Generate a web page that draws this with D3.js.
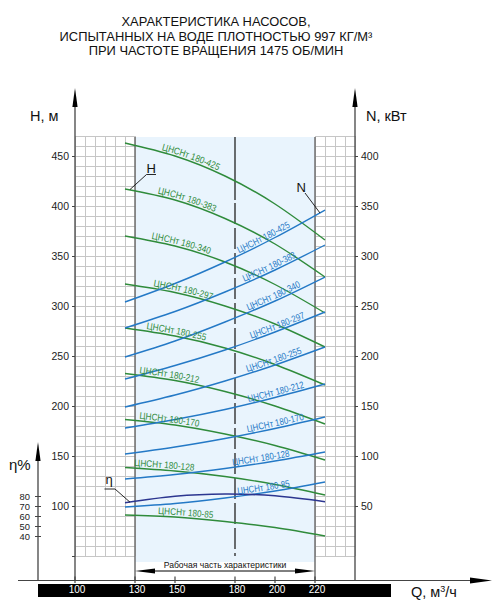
<!DOCTYPE html>
<html><head><meta charset="utf-8">
<script src="https://cdn.jsdelivr.net/npm/d3@7"></script>
<style>
body{margin:0;background:#fff}
svg{display:block;font-family:"Liberation Sans",Arial,sans-serif}
</style>
</head><body>
<svg id="c" width="500" height="611"></svg>
<script>
// ---------- data ----------
const titleLines = ["ХАРАКТЕРИСТИКА НАСОСОВ,", "ИСПЫТАННЫХ НА ВОДЕ ПЛОТНОСТЬЮ 997 КГ/М³", "ПРИ ЧАСТОТЕ ВРАЩЕНИЯ 1475 ОБ/МИН"];
const qPoints = [125, 150, 175, 200, 225];
const models = ["180-425", "180-383", "180-340", "180-297", "180-255", "180-212", "180-170", "180-128", "180-85"];
const head425 = [463, 450, 430, 402, 366];
const head383 = [417, 406, 387.5, 362, 329];
const head340 = [370, 360, 344, 321.5, 293];
const head297 = [322, 313.5, 300, 282, 259];
const head255 = [278, 270, 258, 241.5, 221];
const head212 = [232.5, 225.5, 214.5, 200, 182];
const head170 = [186.5, 181, 172, 160.5, 146];
const head128 = [138.5, 135, 129.5, 121.5, 111];
const head85  = [91, 89, 84.5, 78.5, 70];
const power425 = [254, 272.5, 294, 318.5, 346];
const power383 = [228, 244.5, 264, 286, 311];
const power340 = [199, 215, 234, 255, 279];
const power297 = [177, 190.5, 206, 224, 244];
const power255 = [149, 161, 175, 191, 209];
const power212 = [128, 136.5, 146.5, 158.5, 172];
const power170 = [102, 109, 117.5, 127.5, 139];
const power128 = [77, 81.5, 87.5, 95, 104];
const power85  = [49, 52.5, 58, 65, 74];
const efficiency = [73.3, 79.7, 82, 80.2, 74.3];
const headSeries = [head425, head383, head340, head297, head255, head212, head170, head128, head85];
const powerSeries = [power425, power383, power340, power297, power255, power212, power170, power128, power85];
const hTicks = [50, 100, 150, 200, 250, 300, 350, 400, 450];
const nTicks = [50, 100, 150, 200, 250, 300, 350, 400];
const etaTicks = [40, 50, 60, 70, 80];
const qTicks = [100, 130, 150, 180, 200, 220];
// label anchor (Q at which the label text starts)
const headLabelQ = [143, 141, 138, 139, 135.5, 132, 132, 129.5, 141.5];
const powerLabelQ = [182.5, 185, 187, 188.5, 186.5, 187, 186.5, 179, 181.5];

// ---------- scales ----------
const x = d3.scaleLinear([100, 240], [75, 355]);
const yH = d3.scaleLinear([0, 470], [606, 136]);
const yN = d3.scaleLinear([0, 400], [556, 156]);
const yE = d3.scaleLinear([40, 80], [536, 496]);

const GREEN = "#2f8b3b", BLUE = "#2479c6", DARK = "#2c3690";
const svg = d3.select("#c");

// title
svg.append("g").selectAll("text").data(titleLines).join("text")
  .attr("x", 216).attr("y", (d, i) => 26 + i * 14.5)
  .attr("text-anchor", "middle").attr("font-size", 12.9).attr("fill", "#111").text(d => d);

// working zone background
svg.append("rect").attr("x", x(130)).attr("y", 137).attr("width", x(220) - x(130)).attr("height", 562 - 137)
  .attr("fill", "#e9f4fd");

// grid
const grid = svg.append("g").attr("stroke", "#c6c6c6").attr("stroke-width", 1).attr("shape-rendering", "crispEdges");
function gridBlock(q0, q1) {
  d3.range(q0, q1 + 0.1, 5).forEach(q => grid.append("line")
    .attr("x1", x(q)).attr("x2", x(q)).attr("y1", yH(470)).attr("y2", yH(50)));
  d3.range(50, 471, 10).forEach(h => grid.append("line")
    .attr("x1", x(q0)).attr("x2", x(q1)).attr("y1", yH(h)).attr("y2", yH(h)));
}
gridBlock(100, 130);
gridBlock(220, 240);

// zone borders
svg.append("g").attr("stroke", "#6f6f6f").attr("stroke-width", 1.5).selectAll("line").data([130, 220]).join("line")
  .attr("x1", d => x(d)).attr("x2", d => x(d)).attr("y1", 137).attr("y2", 580);

// dashed line at nominal Q
svg.append("line").attr("x1", x(180)).attr("x2", x(180)).attr("y1", 137).attr("y2", 200)
  .attr("stroke", "#222").attr("stroke-width", 1.3);
svg.append("line").attr("x1", x(180)).attr("x2", x(180)).attr("y1", 203).attr("y2", 556)
  .attr("stroke", "#222").attr("stroke-width", 1.3).attr("stroke-dasharray", "21,4");

// axes lines and arrows
const axisCol = "#444";
function vArrow(xp, yTip, yBot) {
  svg.append("line").attr("x1", xp).attr("x2", xp).attr("y1", yTip + 10).attr("y2", yBot)
    .attr("stroke", axisCol).attr("stroke-width", 1.3);
  svg.append("path").attr("d", `M${xp},${yTip} L${xp - 2.6},${yTip + 19} L${xp + 2.6},${yTip + 19} Z`).attr("fill", "#000");
}
vArrow(x(100), 88, 580);
vArrow(x(240), 88, 580);
vArrow(38, 442, 580);

// H axis
const axH = svg.append("g").attr("transform", `translate(${x(100)},0)`)
  .call(d3.axisLeft(yH).tickValues(hTicks).tickSize(3).tickPadding(3).tickFormat(d => d === 50 ? "" : d));
axH.select(".domain").remove();
axH.selectAll("line").attr("stroke", axisCol);
axH.selectAll("text").attr("font-size", 10.5).attr("fill", "#222").attr("font-family", "Liberation Sans, Arial");

// N axis
const axN = svg.append("g").attr("transform", `translate(${x(240)},0)`)
  .call(d3.axisRight(yN).tickValues(nTicks).tickSize(3).tickPadding(3));
axN.select(".domain").remove();
axN.selectAll("line").attr("stroke", axisCol);
axN.selectAll("text").attr("font-size", 10.5).attr("fill", "#222").attr("font-family", "Liberation Sans, Arial");

// eta axis
const axE = svg.append("g").attr("transform", "translate(38,0)")
  .call(d3.axisLeft(yE).tickValues(etaTicks).tickSizeInner(3).tickSizeOuter(0).tickPadding(5));
axE.select(".domain").remove();
axE.selectAll("line").attr("stroke", axisCol).attr("x2", 3).attr("x1", -3);
axE.selectAll("text").attr("font-size", 9.4).attr("fill", "#222").attr("font-family", "Liberation Sans, Arial");

// axis titles
svg.append("text").attr("x", 30).attr("y", 121).attr("font-size", 14.5).attr("fill", "#111").text("H, м");
svg.append("text").attr("x", 366).attr("y", 121).attr("font-size", 14.5).attr("fill", "#111").text("N, кВт");
svg.append("text").attr("x", 9).attr("y", 470).attr("font-size", 15).attr("fill", "#111").text("η%");

// Q axis
svg.append("line").attr("x1", 18).attr("x2", 474).attr("y1", 580.5).attr("y2", 580.5).attr("stroke", axisCol).attr("stroke-width", 1.2);
svg.append("path").attr("d", "M492,580.5 L470,577.5 L470,583.5 Z").attr("fill", "#000");
svg.append("rect").attr("x", 38).attr("y", 584).attr("width", 353).attr("height", 13).attr("fill", "#000");
svg.append("g").selectAll("line").data(qTicks).join("line")
  .attr("x1", d => x(d)).attr("x2", d => x(d)).attr("y1", 576.5).attr("y2", 583)
  .attr("stroke", axisCol).attr("stroke-width", 1.2);
const axQ = svg.append("g").attr("transform", "translate(1.5,584)")
  .call(d3.axisBottom(x).tickValues(qTicks).tickSize(0).tickPadding(2));
axQ.select(".domain").remove();
axQ.selectAll("text").attr("font-size", 10).attr("fill", "#fff").attr("font-family", "Liberation Sans, Arial");
svg.append("text").attr("x", 411).attr("y", 597).attr("font-size", 14.5).attr("fill", "#111")
  .html('Q, м<tspan dy="-5" font-size="9">3</tspan><tspan dy="5">/ч</tspan>');

// working range arrow
svg.append("line").attr("x1", x(130) + 10).attr("x2", x(220) - 10).attr("y1", 571).attr("y2", 571).attr("stroke", "#000").attr("stroke-width", 1);
svg.append("path").attr("d", `M${x(130)},571 L${x(130) + 20},568.6 L${x(130) + 20},573.4 Z`).attr("fill", "#000");
svg.append("path").attr("d", `M${x(220)},571 L${x(220) - 20},568.6 L${x(220) - 20},573.4 Z`).attr("fill", "#000");
svg.append("text").attr("x", 225).attr("y", 567.5).attr("text-anchor", "middle").attr("font-size", 8.6).attr("fill", "#111")
  .text("Рабочая часть характеристики");

// curves
const lineH = d3.line().x(d => x(d[0])).y(d => yH(d[1])).curve(d3.curveNatural);
const lineN = d3.line().x(d => x(d[0])).y(d => yN(d[1])).curve(d3.curveNatural);
const lineE = d3.line().x(d => x(d[0])).y(d => yE(d[1])).curve(d3.curveNatural);

const curves = svg.append("g").attr("fill", "none");
function offsetAt(node, px) {
  let lo = 0, hi = node.getTotalLength();
  for (let i = 0; i < 30; i++) { const m = (lo + hi) / 2; if (node.getPointAtLength(m).x < px) lo = m; else hi = m; }
  return lo;
}
const labels = svg.append("g");
function addLabel(id, node, q, color, name, len) {
  const off = offsetAt(node, x(q));
  labels.append("text").attr("font-size", 9.6).attr("fill", color).attr("dy", -2)
    .append("textPath").attr("href", "#" + id).attr("startOffset", off)
    .attr("textLength", name.length > 6 ? len : len - 5).attr("lengthAdjust", "spacingAndGlyphs")
    .text("ЦНСНт " + name);
}
headSeries.forEach((vals, i) => {
  const p = curves.append("path").attr("id", "h" + i).attr("d", lineH(qPoints.map((q, j) => [q, vals[j]])))
    .attr("stroke", GREEN).attr("stroke-width", 1.4);
  addLabel("h" + i, p.node(), headLabelQ[i], GREEN, models[i], 60);
});
powerSeries.forEach((vals, i) => {
  const p = curves.append("path").attr("id", "n" + i).attr("d", lineN(qPoints.map((q, j) => [q, vals[j]])))
    .attr("stroke", BLUE).attr("stroke-width", 1.4);
  addLabel("n" + i, p.node(), powerLabelQ[i], BLUE, models[i], 58);
});
curves.append("path").attr("d", lineE(qPoints.map((q, j) => [q, efficiency[j]])))
  .attr("stroke", DARK).attr("stroke-width", 1.6);

// leaders
const lead = svg.append("g").attr("stroke", "#111").attr("stroke-width", 0.9).attr("fill", "none");
lead.append("path").attr("d", `M${x(127.5)},${yH(head383[0]) + 0.5} L146.5,174.5 L156,174.5`);
svg.append("text").attr("x", 146.5).attr("y", 173).attr("font-size", 13).attr("fill", "#111").text("H");
lead.append("path").attr("d", `M305,193 L${x(222.5)},${yN(343)}`);
svg.append("text").attr("x", 296.5).attr("y", 191.5).attr("font-size", 13).attr("fill", "#111").text("N");
lead.append("path").attr("d", `M104.5,489 L115,489 L${x(127.5)},${yE(efficiency[0]) - 0.5}`);
svg.append("text").attr("x", 105.5).attr("y", 484).attr("font-size", 13).attr("fill", "#111").text("η");
</script>
</body></html>
